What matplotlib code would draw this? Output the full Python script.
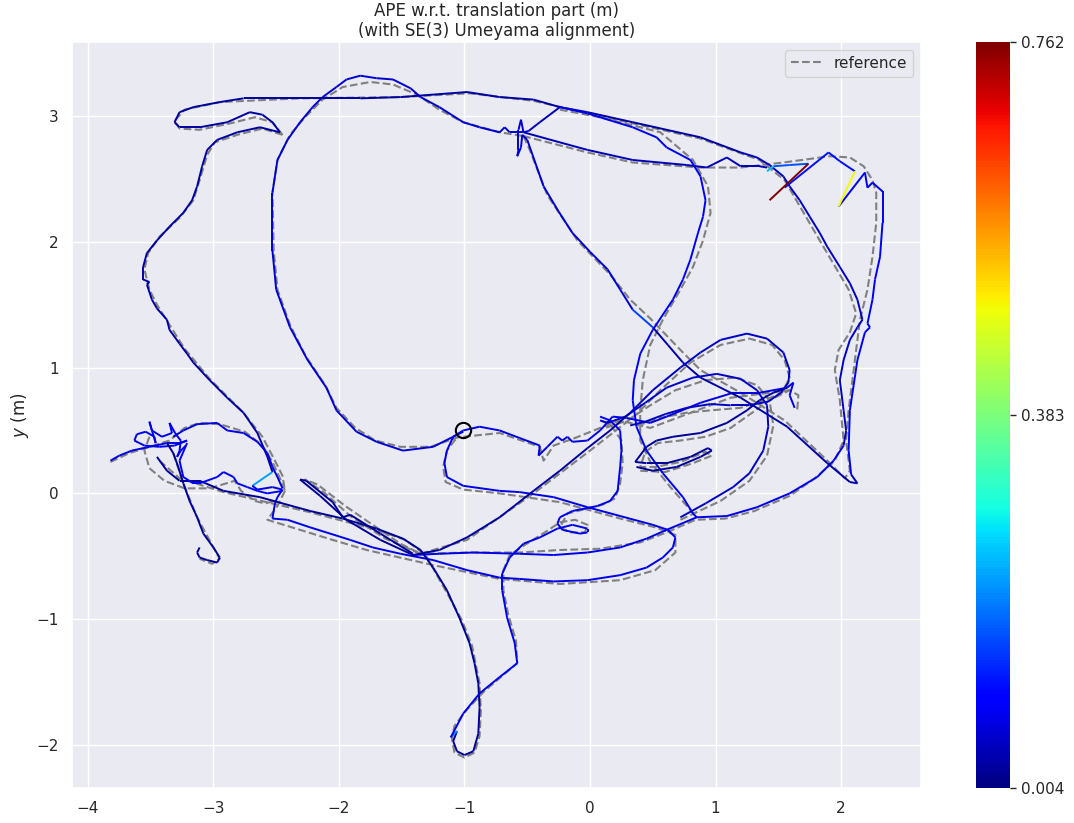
import matplotlib
matplotlib.use("Agg")
import matplotlib.pyplot as plt
import seaborn as sns
from matplotlib.collections import LineCollection
from matplotlib.colors import Normalize
from matplotlib.lines import Line2D
import matplotlib.cm as cm

sns.set_theme(style="darkgrid")
plt.rcParams["font.family"] = ["DejaVu Sans"]

# ---------------------------------------------------------------- data
TITLE = "APE w.r.t. translation part (m)\n(with SE(3) Umeyama alignment)"
ERR_MIN, ERR_MAX = 0.004, 0.762
CBAR_TICKS = [0.004, 0.383, 0.762]
START = (-1.01, 0.50)

# estimated trajectory, piece by piece (x, y) in metres, each with its APE
west_loop = [(-1.01, 0.49), (-1.25, 0.37), (-1.49, 0.34), (-1.70, 0.41), (-1.86, 0.49),
             (-2.02, 0.66), (-2.10, 0.84), (-2.25, 1.06), (-2.39, 1.32), (-2.50, 1.62),
             (-2.53, 1.93), (-2.53, 2.39), (-2.49, 2.65), (-2.41, 2.81), (-2.31, 2.95),
             (-2.21, 3.07), (-2.13, 3.15), (-2.02, 3.23), (-1.94, 3.29), (-1.83, 3.32),
             (-1.70, 3.30), (-1.57, 3.29), (-1.43, 3.22), (-1.35, 3.15), (-1.20, 3.07),
             (-1.01, 2.95), (-0.88, 2.91), (-0.72, 2.87), (-0.68, 2.91), (-0.64, 2.87),
             (-0.53, 2.87)]
west_loop_err = 0.06

rail_west = [(-2.47, 2.87), (-2.53, 2.95), (-2.61, 3.01), (-2.71, 3.03), (-2.89, 2.95),
             (-3.11, 2.91), (-3.27, 2.91), (-3.31, 2.95), (-3.27, 3.03), (-3.16, 3.07),
             (-2.95, 3.11), (-2.76, 3.14), (-2.37, 3.14), (-2.15, 3.14), (-1.83, 3.14),
             (-1.51, 3.15)]
rail_west_err = 0.025

rail_north = [(-1.51, 3.15), (-0.98, 3.19), (-0.72, 3.15), (-0.45, 3.13), (-0.24, 3.07),
              (-0.02, 3.03), (0.34, 2.95), (0.88, 2.83), (1.20, 2.71)]
rail_north_err = 0.03

east_inner = [(1.20, 2.71), (1.33, 2.67), (1.43, 2.61), (1.54, 2.52), (1.59, 2.44),
              (1.67, 2.33), (1.75, 2.20), (1.83, 2.07), (1.89, 1.96), (1.99, 1.80),
              (2.07, 1.67), (2.13, 1.54), (2.17, 1.38), (2.13, 1.32), (2.07, 1.22),
              (2.02, 1.06), (1.99, 0.90), (2.02, 0.66), (2.04, 0.50), (2.02, 0.38)]
east_inner_err = 0.05

south_arc = [(2.02, 0.38), (1.94, 0.26), (1.81, 0.13), (1.59, 0.00), (1.33, -0.11),
             (1.09, -0.18), (0.85, -0.19), (0.61, -0.29), (0.45, -0.36), (0.24, -0.43),
             (-0.02, -0.47), (-0.29, -0.49), (-0.56, -0.48), (-0.93, -0.47), (-1.20, -0.48),
             (-1.41, -0.49)]
south_arc_err = 0.075

west_descent = [(-2.47, 2.87), (-2.63, 2.91), (-2.81, 2.87), (-2.97, 2.81), (-3.05, 2.73),
                (-3.09, 2.60), (-3.13, 2.44), (-3.17, 2.33), (-3.24, 2.23), (-3.35, 2.12),
                (-3.45, 2.01), (-3.53, 1.91), (-3.56, 1.80), (-3.56, 1.70), (-3.51, 1.68),
                (-3.53, 1.66), (-3.49, 1.54), (-3.45, 1.47), (-3.37, 1.38), (-3.35, 1.30),
                (-3.27, 1.19), (-3.21, 1.11), (-3.16, 1.04), (-3.03, 0.90), (-2.89, 0.76),
                (-2.76, 0.64), (-2.65, 0.48), (-2.57, 0.29), (-2.53, 0.17)]
west_descent_err = 0.025

west_flash = [(-2.53, 0.17), (-2.69, 0.06)]
west_flash_err = 0.22

south_loop = [(-2.69, 0.06), (-2.65, 0.03), (-2.53, 0.05), (-2.45, 0.03), (-2.49, -0.03),
              (-2.51, -0.08), (-2.53, -0.20), (-2.41, -0.21), (-2.23, -0.27), (-1.91, -0.37),
              (-1.73, -0.43), (-1.51, -0.48), (-1.25, -0.53), (-0.98, -0.61), (-0.72, -0.67),
              (-0.56, -0.68), (-0.29, -0.70), (-0.02, -0.69), (0.24, -0.65), (0.45, -0.59),
              (0.58, -0.51), (0.66, -0.43), (0.68, -0.35), (0.62, -0.29), (0.50, -0.25),
              (0.24, -0.18), (-0.02, -0.11), (-0.29, -0.03), (-0.56, 0.01), (-0.72, 0.02),
              (-1.01, 0.06), (-1.14, 0.13), (-1.16, 0.24), (-1.14, 0.34), (-1.09, 0.45),
              (-1.01, 0.50)]
south_loop_err = 0.075

south_drop = [(-3.45, 0.29), (-3.37, 0.18), (-3.27, 0.10), (-3.11, 0.10), (-2.92, 0.02),
              (-2.63, -0.03), (-2.23, -0.14), (-1.97, -0.20), (-1.70, -0.28), (-1.49, -0.36),
              (-1.35, -0.45), (-1.25, -0.59), (-1.14, -0.77), (-1.04, -0.99), (-0.96, -1.19),
              (-0.92, -1.35), (-0.89, -1.51), (-0.88, -1.70), (-0.89, -1.91), (-0.93, -2.05),
              (-1.00, -2.08), (-1.06, -2.05), (-1.09, -1.97), (-1.06, -1.89)]
south_drop_err = 0.02

south_flash = [(-1.06, -1.89), (-1.11, -1.94)]
south_flash_err = 0.20

south_rise = [(-1.11, -1.94), (-1.01, -1.75), (-0.88, -1.59), (-0.72, -1.46), (-0.58, -1.35),
              (-0.60, -1.19), (-0.66, -0.99), (-0.70, -0.77), (-0.70, -0.64), (-0.64, -0.51),
              (-0.53, -0.40), (-0.40, -0.35), (-0.26, -0.28), (-0.14, -0.25), (-0.02, -0.28),
              (-0.02, -0.31), (-0.08, -0.32), (-0.22, -0.29), (-0.26, -0.24), (-0.24, -0.19),
              (-0.14, -0.14), (0.06, -0.10), (0.16, -0.06), (0.22, 0.02), (0.24, 0.21),
              (0.25, 0.34), (0.24, 0.50), (0.16, 0.58), (0.08, 0.61)]
south_rise_err = 0.075

start_east = [(-1.01, 0.50), (-0.88, 0.53), (-0.72, 0.50), (-0.56, 0.44), (-0.40, 0.38),
              (-0.41, 0.30), (-0.34, 0.37), (-0.26, 0.45), (-0.22, 0.42), (-0.18, 0.45),
              (-0.14, 0.41), (-0.02, 0.42), (0.08, 0.50), (0.18, 0.61), (0.29, 0.60),
              (0.48, 0.56), (0.61, 0.61), (0.88, 0.72), (1.14, 0.80), (1.35, 0.80),
              (1.57, 0.84), (1.62, 0.88), (1.59, 0.78), (1.63, 0.68)]
start_east_err = 0.07

diag_north = [(-0.53, 2.87), (-0.55, 2.97), (-0.57, 2.89), (-0.57, 2.73), (-0.58, 2.68),
              (-0.55, 2.75), (-0.54, 2.85), (-0.50, 2.81), (-0.37, 2.44), (-0.25, 2.24),
              (-0.14, 2.07), (0.00, 1.92), (0.14, 1.78), (0.24, 1.62), (0.34, 1.46)]
diag_north_err = 0.06

diag_flash = [(0.34, 1.46), (0.50, 1.32)]
diag_flash_err = 0.15

diag_south = [(0.50, 1.32), (0.62, 1.18), (0.74, 1.04), (0.88, 0.92), (1.20, 0.76),
              (1.57, 0.53), (1.89, 0.24), (2.07, 0.09), (2.13, 0.08), (2.08, 0.15)]
diag_south_err = 0.03

east_rim = [(2.08, 0.15), (2.06, 0.34), (2.07, 0.66), (2.13, 1.06), (2.19, 1.28),
            (2.23, 1.32), (2.21, 1.35), (2.25, 1.54), (2.27, 1.70), (2.31, 1.88),
            (2.33, 2.15), (2.33, 2.40), (2.25, 2.47), (2.21, 2.43), (2.19, 2.55),
            (1.98, 2.28)]
east_rim_err = 0.08

rim_yellow = [(1.98, 2.28), (2.11, 2.56)]
rim_yellow_err = 0.49

rim_return = [(2.11, 2.56), (1.99, 2.64), (1.90, 2.71), (1.55, 2.43)]
rim_return_err = 0.11

rim_red = [(1.43, 2.33), (1.74, 2.62)]
rim_red_err = 0.762

rim_blue = [(1.74, 2.62), (1.59, 2.61), (1.46, 2.60)]
rim_blue_err = 0.16

rim_cyan = [(1.46, 2.60), (1.41, 2.56)]
rim_cyan_err = 0.24

mid_rail = [(1.41, 2.59), (1.35, 2.60), (1.20, 2.60), (1.09, 2.67), (0.93, 2.59),
            (0.77, 2.61), (0.34, 2.65), (-0.02, 2.73), (-0.24, 2.79), (-0.53, 2.87)]
mid_rail_err = 0.04

fork_link = [(-0.53, 2.87), (-0.49, 2.88), (-0.40, 2.95), (-0.24, 3.07)]
fork_link_err = 0.04

east_wall = [(-0.24, 3.07), (-0.02, 3.02), (0.34, 2.91), (0.53, 2.83), (0.61, 2.75),
             (0.80, 2.65), (0.88, 2.52), (0.92, 2.33), (0.90, 2.20), (0.86, 2.07),
             (0.80, 1.86), (0.74, 1.70), (0.66, 1.54), (0.50, 1.30), (0.40, 1.11),
             (0.35, 0.90), (0.34, 0.74), (0.37, 0.53), (0.45, 0.34), (0.58, 0.16),
             (0.74, -0.03), (0.82, -0.16), (0.85, -0.19)]
east_wall_err = 0.08

ring_east = [(0.72, -0.19), (0.92, -0.08), (1.14, 0.05), (1.27, 0.16), (1.38, 0.34),
             (1.42, 0.53), (1.41, 0.70), (1.33, 0.82), (1.20, 0.91), (1.01, 0.95),
             (0.82, 0.92), (0.61, 0.84), (0.44, 0.72), (0.28, 0.61), (0.14, 0.56),
             (0.08, 0.58)]
ring_east_err = 0.05

hook_east = [(0.37, 0.21), (0.50, 0.18), (0.69, 0.21), (0.88, 0.29), (0.97, 0.34),
             (0.94, 0.36), (0.80, 0.29), (0.61, 0.24), (0.45, 0.24), (0.36, 0.25),
             (0.45, 0.37), (0.53, 0.42), (0.66, 0.45), (0.88, 0.48), (1.09, 0.56),
             (1.25, 0.66), (1.35, 0.74), (1.46, 0.80), (1.57, 0.84)]
hook_east_err = 0.02

long_diagonal = [(-1.41, -0.49), (-1.20, -0.45), (-0.98, -0.35), (-0.72, -0.19), (-0.45, 0.02),
                 (-0.24, 0.18), (-0.02, 0.36), (0.16, 0.50), (0.32, 0.64)]
long_diagonal_err = 0.025

oval_north = [(0.32, 0.64), (0.50, 0.82), (0.72, 1.00), (0.88, 1.12), (1.04, 1.22),
              (1.25, 1.27), (1.41, 1.23), (1.54, 1.12), (1.59, 0.98), (1.58, 0.88),
              (1.52, 0.80), (1.42, 0.73), (1.27, 0.70), (1.12, 0.70), (0.96, 0.71),
              (0.77, 0.68), (0.60, 0.63), (0.44, 0.57), (0.32, 0.54)]
oval_north_err = 0.05

spike = [(-1.41, -0.49), (-1.67, -0.37), (-1.94, -0.21), (-2.15, -0.02), (-2.31, 0.11),
         (-2.26, 0.10), (-2.05, -0.07), (-1.97, -0.19), (-1.91, -0.17), (-1.67, -0.32),
         (-1.41, -0.48)]
spike_err = 0.02

cluster_tail = [(-3.82, 0.26), (-3.75, 0.30), (-3.65, 0.34), (-3.51, 0.37), (-3.37, 0.40),
                (-3.27, 0.40), (-3.21, 0.42)]
cluster_tail_err = 0.07

cluster_arc = [(-3.32, 0.45), (-3.24, 0.50), (-3.13, 0.55), (-2.97, 0.56), (-2.93, 0.53),
               (-2.89, 0.50), (-2.76, 0.48), (-2.65, 0.41), (-2.57, 0.32), (-2.53, 0.21),
               (-2.49, 0.13), (-2.45, 0.04)]
cluster_arc_err = 0.07

cluster_knot = [(-3.21, 0.42), (-3.31, 0.38), (-3.43, 0.37), (-3.55, 0.38), (-3.63, 0.42),
                (-3.61, 0.47), (-3.54, 0.49), (-3.47, 0.45), (-3.46, 0.40), (-3.49, 0.50),
                (-3.51, 0.57), (-3.49, 0.50), (-3.41, 0.45), (-3.33, 0.48), (-3.35, 0.56),
                (-3.30, 0.47), (-3.26, 0.42), (-3.27, 0.34), (-3.29, 0.29), (-3.26, 0.34),
                (-3.22, 0.38)]
cluster_knot_err = 0.08

cluster_wiggle = [(-3.21, 0.40), (-3.27, 0.26), (-3.24, 0.13), (-3.16, 0.08), (-3.11, 0.08),
                  (-2.97, 0.13), (-2.92, 0.17), (-2.84, 0.13), (-2.81, 0.08), (-2.73, 0.05),
                  (-2.65, 0.02), (-2.57, 0.00), (-2.45, 0.02)]
cluster_wiggle_err = 0.10

west_pocket = [(-3.37, 0.40), (-3.32, 0.32), (-3.28, 0.21), (-3.24, 0.08), (-3.19, -0.06),
               (-3.13, -0.19), (-3.08, -0.32), (-3.00, -0.43), (-2.95, -0.51), (-2.97, -0.55),
               (-3.05, -0.53), (-3.11, -0.51), (-3.13, -0.47), (-3.11, -0.43)]
west_pocket_err = 0.02

# reference (ground truth) trajectory pieces
ref_west_loop = [(-1.04, 0.45), (-1.27, 0.37), (-1.51, 0.37), (-1.71, 0.42), (-1.87, 0.52),
                 (-2.02, 0.68), (-2.11, 0.86), (-2.27, 1.10), (-2.39, 1.34), (-2.49, 1.62),
                 (-2.52, 1.93), (-2.53, 2.39), (-2.49, 2.65), (-2.39, 2.85), (-2.27, 2.99),
                 (-2.13, 3.13), (-1.97, 3.23), (-1.75, 3.27), (-1.57, 3.25), (-1.38, 3.17),
                 (-1.20, 3.05), (-1.01, 2.95), (-0.72, 2.87), (-0.53, 2.84)]
ref_rail = [(-2.45, 2.85), (-2.53, 2.95), (-2.67, 2.99), (-2.87, 2.94), (-3.11, 2.89),
            (-3.27, 2.90), (-3.31, 2.96), (-3.23, 3.05), (-2.95, 3.11), (-2.31, 3.14),
            (-1.51, 3.15), (-0.96, 3.18), (-0.45, 3.12), (0.08, 3.00), (0.88, 2.82),
            (1.35, 2.65), (1.55, 2.49), (1.83, 2.01), (2.06, 1.62), (2.12, 1.43),
            (2.07, 1.28), (1.98, 1.14), (1.95, 0.98), (1.99, 0.74), (2.02, 0.42),
            (1.95, 0.26), (1.79, 0.12), (1.59, -0.02), (1.31, -0.14), (1.08, -0.20),
            (0.84, -0.21), (0.61, -0.31), (0.40, -0.39), (0.08, -0.44), (-0.24, -0.45),
            (-0.56, -0.47), (-0.96, -0.47), (-1.35, -0.48)]
ref_west_descent = [(-2.45, 2.85), (-2.61, 2.90), (-2.81, 2.85), (-2.99, 2.79), (-3.05, 2.69),
                    (-3.11, 2.49), (-3.16, 2.33), (-3.27, 2.19), (-3.43, 2.04), (-3.52, 1.91),
                    (-3.55, 1.78), (-3.51, 1.62), (-3.45, 1.50), (-3.35, 1.34), (-3.23, 1.15),
                    (-3.03, 0.91), (-2.76, 0.64), (-2.61, 0.45), (-2.51, 0.26), (-2.45, 0.14),
                    (-2.43, 0.02)]
ref_south_loop = [(-2.43, 0.02), (-2.49, -0.10), (-2.57, -0.21), (-2.31, -0.29), (-2.05, -0.37),
                  (-1.78, -0.45), (-1.25, -0.57), (-0.72, -0.68), (-0.24, -0.72), (0.24, -0.69),
                  (0.52, -0.61), (0.68, -0.47), (0.68, -0.33), (0.52, -0.27), (0.24, -0.20),
                  (-0.24, -0.07), (-0.72, 0.00), (-1.01, 0.03), (-1.15, 0.09), (-1.17, 0.21),
                  (-1.14, 0.34), (-1.08, 0.42), (-1.04, 0.45)]
ref_south_drop = [(-3.43, 0.26), (-3.27, 0.12), (-2.92, 0.01), (-2.23, -0.15), (-1.70, -0.29),
                  (-1.47, -0.37), (-1.31, -0.49), (-1.14, -0.79), (-1.02, -1.01), (-0.94, -1.21),
                  (-0.88, -1.51), (-0.87, -1.73), (-0.88, -1.93), (-0.92, -2.06), (-1.00, -2.10),
                  (-1.08, -2.06), (-1.10, -1.95), (-1.08, -1.85), (-1.00, -1.74), (-0.84, -1.57),
                  (-0.58, -1.35), (-0.59, -1.17), (-0.65, -0.97), (-0.69, -0.77), (-0.69, -0.61),
                  (-0.64, -0.49), (-0.52, -0.41), (-0.36, -0.31), (-0.24, -0.23), (-0.12, -0.21),
                  (-0.02, -0.25), (-0.04, -0.31), (-0.16, -0.31), (-0.24, -0.27), (-0.18, -0.16),
                  (0.10, -0.09), (0.20, -0.04), (0.24, 0.08), (0.26, 0.24), (0.25, 0.42),
                  (0.16, 0.55), (0.08, 0.58)]
ref_north_diag = [(-0.53, 2.84), (-0.48, 2.73), (-0.34, 2.37), (-0.10, 2.01), (0.16, 1.74),
                  (0.32, 1.54), (0.48, 1.39), (0.72, 1.14), (0.88, 0.98), (1.20, 0.80),
                  (1.55, 0.58), (1.87, 0.28), (2.03, 0.12), (2.07, 0.18), (2.04, 0.42),
                  (2.06, 0.66), (2.11, 1.06), (2.15, 1.38), (2.21, 1.62), (2.25, 1.88),
                  (2.28, 2.15), (2.28, 2.39), (2.25, 2.49), (2.18, 2.60), (2.07, 2.67),
                  (1.91, 2.68), (1.54, 2.63), (1.20, 2.59), (0.88, 2.59), (0.34, 2.63),
                  (-0.02, 2.71), (-0.53, 2.84)]
ref_east_wall = [(-0.24, 3.05), (0.08, 2.99), (0.56, 2.87), (0.82, 2.65), (0.94, 2.44),
                 (0.96, 2.23), (0.90, 2.01), (0.82, 1.80), (0.72, 1.62), (0.58, 1.38),
                 (0.48, 1.18), (0.42, 0.90), (0.40, 0.66), (0.40, 0.42), (0.48, 0.25),
                 (0.64, 0.05), (0.78, -0.11), (0.85, -0.19)]
ref_ring = [(0.72, -0.21), (1.04, -0.06), (1.27, 0.10), (1.41, 0.30), (1.46, 0.54),
            (1.43, 0.74), (1.33, 0.86), (1.16, 0.92), (0.92, 0.90), (0.68, 0.82),
            (0.48, 0.70), (0.30, 0.58), (0.12, 0.52)]
ref_hook = [(0.40, 0.18), (0.60, 0.17), (0.82, 0.24), (0.97, 0.30), (0.92, 0.33),
            (0.72, 0.25), (0.52, 0.21), (0.40, 0.21), (0.44, 0.33), (0.54, 0.40),
            (0.72, 0.42), (0.92, 0.45), (1.12, 0.52), (1.29, 0.64), (1.43, 0.74),
            (1.59, 0.82), (1.66, 0.78), (1.65, 0.66)]
ref_start_east = [(-1.01, 0.45), (-0.72, 0.48), (-0.40, 0.37), (-0.37, 0.26), (-0.29, 0.38),
                  (-0.12, 0.44), (0.08, 0.52), (0.24, 0.58), (0.48, 0.52), (0.80, 0.64),
                  (1.12, 0.76), (1.43, 0.80), (1.59, 0.82)]
ref_oval = [(-1.35, -0.48), (-0.98, -0.37), (-0.45, 0.00), (0.00, 0.34), (0.36, 0.62),
            (0.56, 0.82), (0.80, 1.04), (1.04, 1.18), (1.27, 1.23), (1.45, 1.18),
            (1.55, 1.06), (1.59, 0.92), (1.53, 0.80), (1.39, 0.74), (1.20, 0.68),
            (0.96, 0.66), (0.76, 0.64), (0.56, 0.60), (0.38, 0.54)]
ref_spike = [(-1.35, -0.48), (-1.63, -0.36), (-1.91, -0.18), (-2.11, 0.00), (-2.27, 0.11),
             (-2.17, 0.07), (-1.95, -0.10), (-1.79, -0.21), (-1.51, -0.40), (-1.35, -0.48)]
ref_cluster_arc = [(-3.82, 0.25), (-3.67, 0.32), (-3.51, 0.37), (-3.35, 0.42), (-3.23, 0.52),
                   (-3.11, 0.56), (-2.95, 0.55), (-2.75, 0.49), (-2.61, 0.38), (-2.53, 0.25),
                   (-2.47, 0.12), (-2.43, 0.02)]
ref_cluster_loop = [(-3.51, 0.45), (-3.55, 0.34), (-3.51, 0.20), (-3.39, 0.10), (-3.23, 0.04),
                    (-3.03, 0.04), (-2.83, 0.10), (-2.78, 0.02), (-2.67, -0.06), (-2.59, -0.08),
                    (-2.51, -0.06)]
ref_pocket = [(-3.32, 0.32), (-3.24, 0.08), (-3.13, -0.19), (-3.00, -0.43), (-2.95, -0.52),
              (-3.01, -0.56), (-3.11, -0.52)]

# ---------------------------------------------------------------- assemble
estimate = [
    (west_loop, west_loop_err), (rail_west, rail_west_err), (rail_north, rail_north_err),
    (east_inner, east_inner_err), (south_arc, south_arc_err),
    (west_descent, west_descent_err), (west_flash, west_flash_err),
    (south_loop, south_loop_err), (south_drop, south_drop_err),
    (south_flash, south_flash_err), (south_rise, south_rise_err),
    (start_east, start_east_err), (diag_north, diag_north_err),
    (diag_flash, diag_flash_err), (diag_south, diag_south_err),
    (east_rim, east_rim_err), (rim_return, rim_return_err), (rim_yellow, rim_yellow_err),
    (rim_blue, rim_blue_err), (rim_cyan, rim_cyan_err), (rim_red, rim_red_err),
    (mid_rail, mid_rail_err), (fork_link, fork_link_err), (east_wall, east_wall_err),
    (ring_east, ring_east_err), (hook_east, hook_east_err),
    (long_diagonal, long_diagonal_err), (oval_north, oval_north_err), (spike, spike_err),
    (cluster_tail, cluster_tail_err), (cluster_arc, cluster_arc_err),
    (cluster_knot, cluster_knot_err), (cluster_wiggle, cluster_wiggle_err),
    (west_pocket, west_pocket_err),
]
reference = [ref_west_loop, ref_rail, ref_west_descent, ref_south_loop, ref_south_drop,
             ref_north_diag, ref_east_wall, ref_ring, ref_hook, ref_start_east, ref_oval,
             ref_spike, ref_cluster_arc, ref_cluster_loop, ref_pocket]

# ---------------------------------------------------------------- figure
fig = plt.figure(figsize=(10.74, 8.23), dpi=100)
ax = fig.add_axes([0.067, 0.0425, 0.7906, 0.9065])
cax = fig.add_axes([0.9088, 0.0425, 0.0317, 0.9065])

for piece in reference:
    xs, ys = zip(*piece)
    ax.plot(xs, ys, linestyle="--", color="gray", linewidth=1.5, zorder=2)

segments, values = [], []
for piece, err in estimate:
    for a, b in zip(piece[:-1], piece[1:]):
        segments.append([a, b])
        values.append(err)

norm = Normalize(vmin=ERR_MIN, vmax=ERR_MAX)
lc = LineCollection(segments, cmap="jet", norm=norm, linewidths=1.4, zorder=3)
lc.set_array(values)
ax.add_collection(lc)

ax.plot(*START, marker="o", markersize=11, fillstyle="none", color="black",
        markeredgewidth=1.5, zorder=4)

ax.set_xlim(-4.127, 2.637)
ax.set_ylim(-2.342, 3.588)
ax.set_ylabel("$y$ (m)")
ax.set_title(TITLE, fontsize=12, pad=4)

ax.legend(handles=[Line2D([], [], linestyle="--", color="gray", linewidth=1.5)],
          labels=["reference"], loc="upper right", fontsize=11)

sm = cm.ScalarMappable(norm=norm, cmap="jet")
cbar = fig.colorbar(sm, cax=cax, ticks=CBAR_TICKS)
cbar.ax.set_yticklabels([f"{t:.3f}" for t in CBAR_TICKS])
cbar.ax.tick_params(width=1, length=4, labelsize=11)
cbar.outline.set_visible(False)

fig.savefig("out.png", dpi=100)
